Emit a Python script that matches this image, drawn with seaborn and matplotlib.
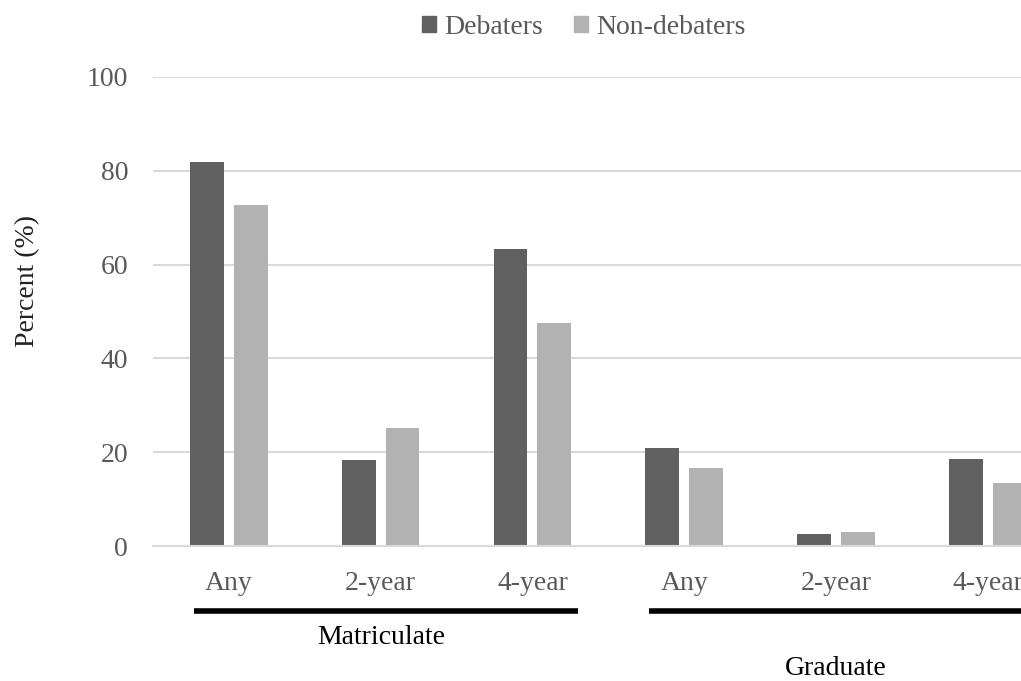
import numpy as np
import pandas as pd
import matplotlib
matplotlib.use('Agg')
import matplotlib.pyplot as plt
import seaborn as sns

# 数据
OUTCOMES = ['Matriculate', 'Graduate']
TYPES = ['Any', '2-year', '4-year']
GROUPS = ['Debaters', 'Non-debaters']
debaters = [81.8, 18.3, 63.4, 20.9, 2.6, 18.5]
non_debaters = [72.8, 25.2, 47.6, 16.6, 3.0, 13.4]

COLORS = ['#606060', '#b2b2b2']
TICK_GREY = '#595959'

sns.set_theme(style='white')
plt.rcParams['font.family'] = ['Liberation Serif', 'DejaVu Serif']

keys = [f'{o} {t}' for o in OUTCOMES for t in TYPES]
df = pd.DataFrame({
    'key': keys * 2,
    'group': [GROUPS[0]] * len(keys) + [GROUPS[1]] * len(keys),
    'value': debaters + non_debaters,
})

fig = plt.figure(figsize=(10.21, 6.81), dpi=100)
ax = fig.add_axes([0.150, 0.198, 0.85, 0.689])

sns.barplot(data=df, x='key', y='value', hue='group', order=keys,
            hue_order=GROUPS, palette=COLORS, width=0.577, gap=0.23,
            edgecolor='none', ax=ax)

ax.set_xlim(-0.5, 5.22)
ax.set_ylim(0, 100)
ax.set_yticks(np.arange(0, 101, 20))
ax.yaxis.grid(True, color='#d9d9d9', linewidth=1.5)
ax.set_axisbelow(True)
for s in ['top', 'right', 'left']:
    ax.spines[s].set_visible(False)
ax.spines['bottom'].set_color('#d9d9d9')
ax.spines['bottom'].set_linewidth(1.5)

ax.set_xticks(range(len(keys)))
ax.set_xticklabels(TYPES * len(OUTCOMES))
ax.tick_params(axis='x', length=0, pad=18, labelsize=20, labelcolor=TICK_GREY)
ax.tick_params(axis='y', length=0, pad=18, labelsize=20, labelcolor=TICK_GREY)
ax.set_xlabel('')
ax.set_ylabel('')

fig.text(0.027, 0.588, 'Percent (%)', rotation=90, ha='center', va='center',
         fontsize=20, color='#222222')

# 分组横线与标签
trans = ax.get_xaxis_transform()
label_y = [-0.195, -0.26]
for i, name in enumerate(OUTCOMES):
    start = i * len(TYPES)
    end = start + len(TYPES) - 1
    ax.plot([start - 0.23, end + 0.3], [-0.138, -0.138], transform=trans,
            color='black', linewidth=4, clip_on=False, solid_capstyle='butt')
    ax.text((start + end) / 2, label_y[i], name, transform=trans,
            ha='center', va='center', fontsize=20, color='black')

ax.legend_.remove()
handles = [plt.Rectangle((0, 0), 1, 1, color=c) for c in COLORS]
fig.legend(handles, GROUPS, loc='center', bbox_to_anchor=(0.572, 0.960),
           ncol=2, frameon=False, fontsize=20, labelcolor=TICK_GREY,
           handlelength=0.5, handleheight=0.5, handletextpad=0.3,
           columnspacing=1.1)

fig.savefig('out.png', dpi=100)
